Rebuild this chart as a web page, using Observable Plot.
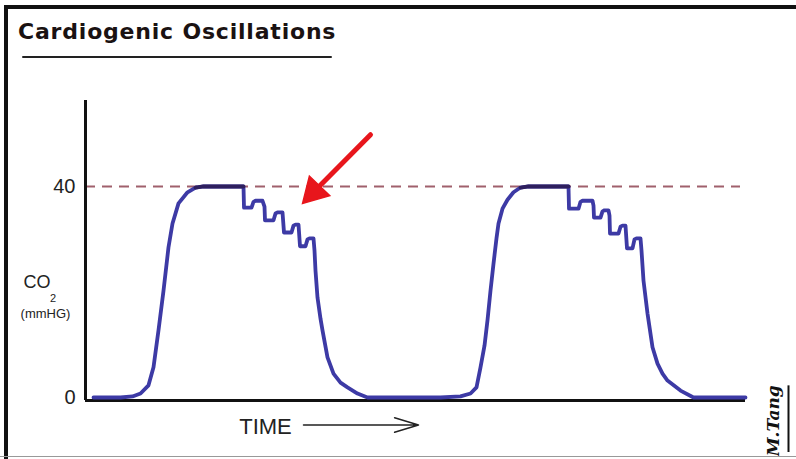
<!DOCTYPE html>
<html>
<head>
<meta charset="utf-8">
<script src="https://cdn.jsdelivr.net/npm/d3@7"></script>
<script src="https://cdn.jsdelivr.net/npm/@observablehq/plot@0.6"></script>
<style>
  html, body { margin: 0; padding: 0; background: #fff; }
  #wrap { position: relative; width: 796px; height: 459px; background: #fff; overflow: hidden; }
  #chart { position: absolute; left: 0; top: 0; }
  .bar { position: absolute; background: #111; }
  #title { position: absolute; left: 18px; top: 21px; font-family: "DejaVu Sans", sans-serif; font-weight: bold;
           font-size: 22px; line-height: 22px; letter-spacing: 0.8px; color: #1a1212; white-space: nowrap; }
  #uline { position: absolute; left: 22px; top: 56px; width: 310px; height: 2px; background: #222; border-radius: 1px; }
  #bottomline { position: absolute; left: 0; top: 456px; width: 796px; height: 1px; background: #999; }
</style>
</head>
<body>
<div id="wrap">
  <div id="chart"></div>
  <div class="bar" style="left:4px; top:5px; width:792px; height:4px;"></div>
  <div class="bar" style="left:4px; top:5px; width:4px; height:454px;"></div>
  <div id="bottomline"></div>
  <div id="title">Cardiogenic Oscillations</div>
  <div id="uline"></div>
</div>
<script>
// Time (arbitrary units) and CO2 (mmHg)
const timeVals = [
  5, 32, 44, 52, 60, 65, 70, 75, 80, 84, 90, 99, 107, 115, 155,
  155.5, 163, 165, 167, 174, 176, 176.5, 185, 187, 189, 194, 195.5, 203, 205, 207, 210,
  211.5, 217, 219, 221, 225, 226, 227, 229, 232, 234, 239, 245, 252, 259, 269, 279,
  352, 372, 382, 388, 392, 396, 399, 402, 405, 408, 410, 414, 419, 425, 432, 440, 480,
  480.5, 490, 492, 494, 504, 505, 505.5, 512, 514, 516, 520, 521, 521.5, 530, 532, 534, 537,
  538.5, 544, 546, 548, 552, 553, 555, 559, 564, 569, 574, 579, 592, 605, 657
];
const co2Vals = [
  0.1, 0.1, 0.3, 0.85, 2.4, 5.8, 12.8, 20.3, 28.5, 33.0, 36.8, 38.9, 39.8, 40, 40,
  36.0, 36.0, 37.1, 37.3, 37.3, 36.2, 33.6, 33.6, 34.9, 35.1, 35.1, 31.3, 31.3, 32.6, 32.8, 32.8,
  28.7, 28.7, 30.0, 30.2, 30.2, 27.9, 24.1, 19.0, 15.0, 12.8, 7.7, 4.6, 2.9, 2.0, 0.85, 0.1,
  0.1, 0.3, 0.85, 2.0, 5.8, 9.9, 14.7, 20.3, 25.4, 30.2, 33.0, 35.8, 37.5, 38.9, 39.8, 40, 40,
  35.8, 35.8, 37.1, 37.3, 37.3, 36.4, 34.1, 34.1, 35.3, 35.5, 35.5, 34.5, 31.1, 31.1, 32.4, 32.6, 32.6,
  28.3, 28.3, 30.0, 30.2, 30.2, 27.9, 22.2, 16.0, 9.6, 6.5, 4.6, 3.3, 1.4, 0.1, 0.1
];
const yTicks = [0, 40];
const reference = [40];          // dashed reference level (mmHg)
const refSpan = [-3, 652];       // time span of the dashed line
const xDomain = [-3, 657];
const yDomain = [-0.47, 56.26];
// red arrow (time, CO2)
const redArrowFrom = [282, 49.8];
const redArrowTo = [225.4, 39.0];
// time-label arrow
const timeLabel = [{t: 177, v: -5.4, text: "TIME"}];
const timeArrow = [{t1: 215, t2: 330, v: -5.1}];
const yLabels = [
  {t: -51.5, v: 21.8, text: "CO", size: 18},
  {t: -35.5, v: 18.8, text: "2", size: 11},
  {t: -43, v: 16.0, text: "(mmHG)", size: 13}
];
const signature = [{t: 685, v: -4.3, text: "M.Tang"}];
const signatureLine = [{t: 700, v1: 2.3, v2: -10.3}];

const data = timeVals.map((t, i) => ({t, co2: co2Vals[i], grp: t < 300 ? 1 : 2}));
const plateau = data.filter(d => d.co2 >= 39.8);

const chart = Plot.plot({
  width: 796,
  height: 459,
  marginLeft: 85,
  marginRight: 51,
  marginTop: 100,
  marginBottom: 59,
  x: {domain: xDomain, axis: null},
  y: {domain: yDomain, axis: null},
  style: {background: "transparent", fontFamily: "'Liberation Sans', Arial, sans-serif", color: "#222"},
  marks: [
    Plot.axisY(yTicks, {tickSize: 0, tickPadding: 10, fontSize: 20, label: null, tickFormat: d => String(d), fill: "#222"}),
    Plot.ruleY(reference, {x1: refSpan[0], x2: refSpan[1], stroke: "#a0606c", strokeWidth: 1.8, strokeDasharray: "10,7"}),
    Plot.ruleX([xDomain[0]], {y1: yDomain[0], y2: yDomain[1], stroke: "#111", strokeWidth: 3}),
    Plot.ruleY([yDomain[0]], {x1: xDomain[0], x2: xDomain[1], stroke: "#111", strokeWidth: 3}),
    Plot.line(data, {x: "t", y: "co2", stroke: "#3d3aa5", strokeWidth: 3.8, strokeLinejoin: "round", strokeLinecap: "round"}),
    Plot.line(plateau, {x: "t", y: "co2", z: "grp", stroke: "#2e1f5e", strokeWidth: 3.8, strokeLinecap: "round"}),
    Plot.link([0], {x1: () => redArrowFrom[0], y1: () => redArrowFrom[1], x2: () => redArrowTo[0], y2: () => redArrowTo[1],
      stroke: "#e8161c", strokeWidth: 5, strokeLinecap: "round"}),
    Plot.dot([0], {x: () => redArrowTo[0], y: () => redArrowTo[1], symbol: "triangle", r: 10.5, rotate: 224,
      fill: "#e8161c", stroke: "#e8161c", strokeWidth: 1.5}),
    Plot.text(timeLabel, {x: "t", y: "v", text: "text", fontSize: 22, fill: "#222", textAnchor: "middle", lineAnchor: "middle"}),
    Plot.arrow(timeArrow, {x1: "t1", x2: "t2", y1: "v", y2: "v", stroke: "#222", strokeWidth: 1.5, headLength: 25, headAngle: 34}),
    Plot.text(yLabels, {x: "t", y: "v", text: "text", fontSize: d => d.size, fill: "#222", textAnchor: "middle", lineAnchor: "middle"}),
    Plot.text(signature, {x: "t", y: "v", text: "text", rotate: -90, fontSize: 17, fontStyle: "italic", fontWeight: "bold",
      fontFamily: "'DejaVu Serif', serif", fill: "#111", textAnchor: "middle", lineAnchor: "middle"}),
    Plot.ruleX(signatureLine, {x: "t", y1: "v1", y2: "v2", stroke: "#111", strokeWidth: 2})
  ]
});
document.getElementById("chart").appendChild(chart);
</script>
</body>
</html>
